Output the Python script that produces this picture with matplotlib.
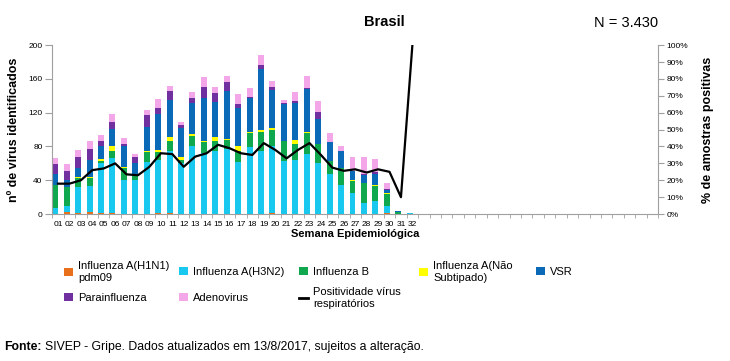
import numpy as np
import matplotlib
matplotlib.use("Agg")
import matplotlib.pyplot as plt
from matplotlib.patches import Patch
from matplotlib.lines import Line2D

plt.rcParams['font.family'] = ['Liberation Sans', 'DejaVu Sans']

## Vírus respiratórios identificados por semana epidemiológica - Brasil 2017

weeks = ["%02d" % w for w in range(1, 33)]
n_weeks_axis = 53

h1n1 = [0, 2, 1, 3, 1, 1, 0, 0, 0, 1, 1, 0, 0, 0, 0, 0,
        0, 0, 0, 1, 0, 0, 0, 0, 0, 0, 0, 0, 0, 1, 0, 0]
h3n2 = [7, 7, 31, 30, 59, 65, 40, 40, 62, 63, 74, 60, 81, 72, 75, 77,
        62, 79, 75, 79, 63, 64, 71, 61, 47, 34, 25, 13, 16, 8, 0, 1]
flu_b = [28, 23, 11, 10, 3, 9, 14, 5, 12, 10, 12, 4, 12, 13, 12, 11,
         13, 17, 22, 20, 23, 19, 25, 22, 16, 20, 14, 24, 17, 15, 3, 0]
nao_sub = [0, 0, 1, 1, 2, 5, 2, 0, 1, 2, 4, 4, 2, 2, 4, 1,
           5, 1, 2, 2, 1, 5, 1, 0, 0, 0, 1, 0, 1, 1, 0, 0]
vsr = [12, 8, 10, 20, 15, 21, 24, 16, 28, 43, 44, 34, 36, 50, 42, 57,
       45, 40, 73, 45, 43, 43, 51, 29, 22, 21, 11, 9, 13, 3, 1, 0]
parainf = [12, 11, 14, 13, 7, 8, 3, 6, 14, 7, 11, 3, 6, 13, 10, 10,
           5, 1, 5, 4, 1, 3, 1, 9, 0, 0, 0, 1, 3, 2, 0, 0]
adeno = [7, 8, 8, 10, 7, 9, 7, 4, 6, 10, 6, 4, 8, 12, 7, 7,
         12, 11, 11, 7, 4, 10, 15, 13, 11, 6, 17, 21, 15, 7, 0, 0]
positividade = [18, 18, 20, 26, 27, 30, 23.5, 23, 28, 36, 35.5, 28, 34, 36, 41, 39,
                36, 35, 42, 38, 33, 38, 42, 35, 27.5, 25.6, 26.5, 24.6, 26.5, 25, 10, 100]

series = [
    ("Influenza A(H1N1)\npdm09", h1n1, "#E8701A"),
    ("Influenza A(H3N2)", h3n2, "#18C8EE"),
    ("Influenza B", flu_b, "#10A84E"),
    ("Influenza A(Não\nSubtipado)", nao_sub, "#FFFF00"),
    ("VSR", vsr, "#0A6AB8"),
    ("Parainfluenza", parainf, "#7030A0"),
    ("Adenovirus", adeno, "#F3A6E8"),
]
line_label = "Positividade vírus\nrespiratórios"

fig = plt.figure(figsize=(7.3, 3.61), dpi=100)
ax = fig.add_axes([0.0716, 0.407, 0.830, 0.468])

x = np.arange(len(weeks))
bottom = np.zeros(len(weeks))
for name, vals, col in series:
    vals = np.array(vals, dtype=float)
    ax.bar(x, vals, width=0.52, bottom=bottom, align='edge', color=col, linewidth=0)
    bottom += vals

ax.set_xlim(0, n_weeks_axis)
ax.set_ylim(0, 200)
ax.set_yticks(np.arange(0, 201, 40))
ax.set_xticks(x + 0.5)
ax.set_xticklabels(weeks, fontsize=6)
ax.set_xticks(np.arange(0, n_weeks_axis + 1), minor=True)
ax.tick_params(axis='x', which='major', length=0, pad=5)
ax.tick_params(axis='x', which='minor', length=3, color='#A0A0A0', direction='out')
ax.tick_params(axis='y', labelsize=6, length=5, color='#A0A0A0', pad=2)
for s in ['top', 'right']:
    ax.spines[s].set_visible(False)
for s in ['left', 'bottom']:
    ax.spines[s].set_color('#A0A0A0')
    ax.spines[s].set_linewidth(0.8)
ax.set_ylabel("nº de vírus identificados", fontsize=9, fontweight='bold', labelpad=6)
ax.set_xlabel("Semana Epidemiológica", fontsize=8, fontweight='bold', labelpad=1)

ax2 = ax.twinx()
ax2.plot(x + 0.5, positividade, color='black', linewidth=1.6)
ax2.set_ylim(0, 100)
ax2.set_yticks(np.arange(0, 101, 10))
ax2.set_yticklabels(["%d%%" % v for v in range(0, 101, 10)])
ax2.tick_params(axis='y', labelsize=6, length=4, color='#A0A0A0', pad=2)
for s in ['top', 'left', 'bottom']:
    ax2.spines[s].set_visible(False)
ax2.spines['right'].set_color('#A0A0A0')
ax2.spines['right'].set_linewidth(0.8)
ax2.set_ylabel("% de amostras positivas", fontsize=9, fontweight='bold', labelpad=10)

fig.text(0.527, 0.938, "Brasil", fontsize=10.5, fontweight='bold', ha='center', va='center')
fig.text(0.901, 0.935, "N = 3.430", fontsize=10.5, ha='right', va='center')

# legend: each entry placed on its own, in a 5 x 2 grid like the original
handles = {name: Patch(facecolor=col, edgecolor='none') for name, _, col in series}
handles[line_label] = Line2D([0], [0], color='black', linewidth=2)
names = [s[0] for s in series]
col_x = [56, 171, 291, 411, 528]
row_y = [272, 298]
grid = [
    (names[0], 0, 0), (names[1], 1, 0), (names[2], 2, 0), (names[3], 3, 0), (names[4], 4, 0),
    (names[5], 0, 1), (names[6], 1, 1), (line_label, 2, 1),
]
for nm, c, r in grid:
    fig.legend([handles[nm]], [nm], loc='center left',
               bbox_to_anchor=(col_x[c] / 730, 1 - row_y[r] / 361), frameon=False,
               fontsize=8, handlelength=0.8, handleheight=0.8, handletextpad=0.5,
               borderpad=0.2)

fig.text(0.006, 0.038, "Fonte:", fontsize=8.8, fontweight='bold', ha='left', va='center')
fig.text(0.061, 0.038, "SIVEP - Gripe. Dados atualizados em 13/8/2017, sujeitos a alteração.",
         fontsize=8.8, ha='left', va='center')

fig.savefig("out.png", dpi=100)
